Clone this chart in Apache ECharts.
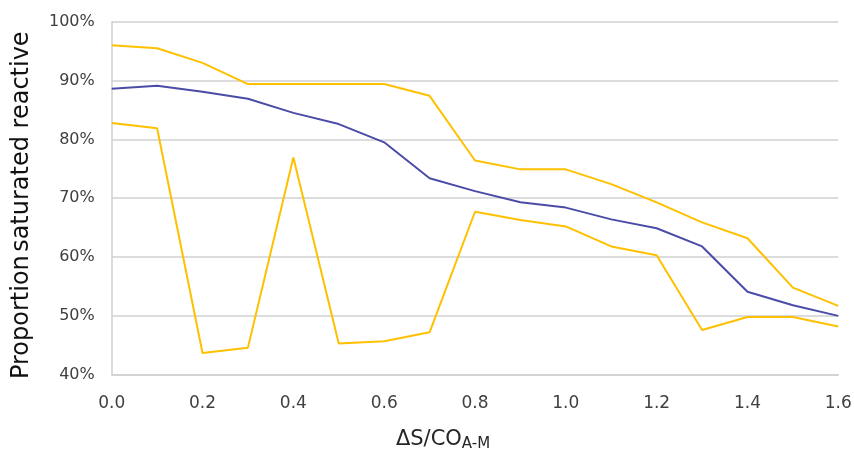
<!DOCTYPE html>
<html><head><meta charset="utf-8">
<script src="https://cdn.jsdelivr.net/npm/echarts@6/dist/echarts.min.js"></script>
<style>html,body{margin:0;padding:0;background:#fff}#c{width:854px;height:452px}</style>
</head><body><div id="c"></div>
<script>
const xValues = [0.0,0.1,0.2,0.3,0.4,0.5,0.6,0.7,0.8,0.9,1.0,1.1,1.2,1.3,1.4,1.5,1.6];
const upperBound = [96.0,95.5,93.0,89.4,89.4,89.4,89.4,87.4,76.4,74.9,74.9,72.4,69.3,65.9,63.2,54.8,51.7];
const mean = [88.6,89.1,88.1,86.9,84.5,82.6,79.5,73.4,71.2,69.3,68.4,66.4,64.9,61.8,54.1,51.8,50.0];
const lowerBound = [82.8,81.9,43.7,44.6,76.9,45.3,45.7,47.2,67.7,66.3,65.2,61.8,60.3,47.6,49.8,49.8,48.2];

const pairs = arr => xValues.map((x,i)=>[x, arr[i]]);
const font = '"DejaVu Sans", sans-serif';
const chart = echarts.init(document.getElementById('c'));
const lineSeries = (name, data, color) => ({
  name, type:'line', data: pairs(data), symbol:'none',
  lineStyle:{color, width:2}, itemStyle:{color}, animation:false
});
chart.setOption({
  animation:false,
  grid:{left:111.7, right:15.7, top:21.7, bottom:77.3, containLabel:false, outerBoundsMode:'none'},
  xAxis:{
    type:'value', min:0, max:1.6, interval:0.2,
    axisLine:{show:true, lineStyle:{color:'#d0d0d0', width:1.5}},
    axisTick:{show:false},
    splitLine:{show:false},
    axisLabel:{formatter:v=>v.toFixed(1), color:'#404040', fontSize:17, fontFamily:font, margin:20},
    name:'{a|ΔS/CO}{b|A-M}', nameLocation:'middle', nameGap:52,
    nameTextStyle:{padding:[0,64,0,0], rich:{
      a:{fontSize:21, fontFamily:font, color:'#262626'},
      b:{fontSize:15, fontFamily:font, color:'#262626', padding:[10,0,0,0]}
    }}
  },
  yAxis:{
    type:'value', min:40, max:100, interval:10,
    axisLine:{show:true, lineStyle:{color:'#d0d0d0', width:1.5}},
    axisTick:{show:false},
    splitLine:{lineStyle:{color:'#d0d0d0', width:1.5}},
    axisLabel:{formatter:v=>v+'%', color:'#404040', fontSize:16, fontFamily:font, margin:17},
    name:'{a|Proportion} {b|saturated reactive}', nameLocation:'middle', nameRotate:90, nameGap:78,
    nameTextStyle:{padding:[0,14,0,0], rich:{
      a:{fontSize:24, fontFamily:font, color:'#111'},
      b:{fontSize:24, fontFamily:font, color:'#111'}
    }}
  },
  series:[
    lineSeries('Upper', upperBound, '#FFC000'),
    lineSeries('Mean', mean, '#4B4BA8'),
    lineSeries('Lower', lowerBound, '#FFC000')
  ]
});
</script></body></html>
